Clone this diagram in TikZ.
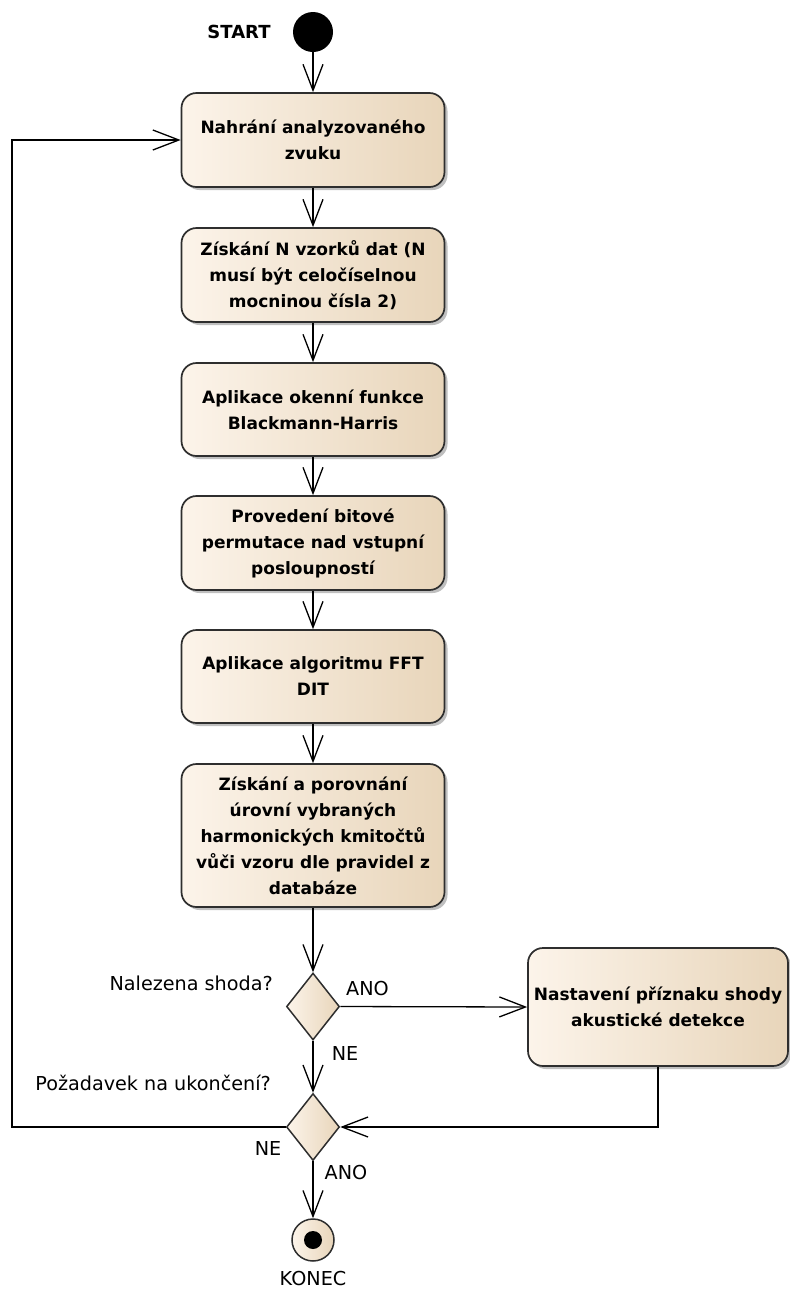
\documentclass[tikz,border=0pt]{standalone}
\usepackage{fontspec}
\setmainfont{DejaVu Sans}
\usetikzlibrary{shapes.geometric,arrows.meta,shadows}
\definecolor{fillL}{HTML}{FCF4EA}
\definecolor{fillR}{HTML}{E8D5BA}
\definecolor{edge}{HTML}{2E2E2E}
\tikzset{
  actbox/.style={draw=edge, line width=1.7pt, rounded corners=15pt, left color=fillL, right color=fillR,
    minimum width=263pt, minimum height=94pt, align=center, inner sep=2pt,
    font=\fontsize{17}{26}\selectfont\bfseries,
    drop shadow={shadow xshift=3pt, shadow yshift=-3pt, fill=black, opacity=0.25}},
  decis/.style={diamond, draw=edge, line width=1.5pt, left color=fillL, right color=fillR,
    minimum width=53pt, minimum height=67pt, inner sep=0pt},
  arr/.style={line width=1.3pt, -{Straight Barb[length=26pt,width=20pt]}},
  lbl/.style={font=\fontsize{19.2}{23}\selectfont, inner sep=0pt},
}
\begin{document}
\begin{tikzpicture}[x=1pt,y=-1pt]
\useasboundingbox (0,0) rectangle (790,1291);
\node[circle, fill=black, minimum size=40pt, inner sep=0pt] (start) at (313,32) {};
\node[lbl, font=\fontsize{18}{22}\selectfont\bfseries] (startl) at (239,32) {START};

\node[actbox] (b1) at (313,140) {Nahrání analyzovaného\\zvuku};
\node[actbox] (b2) at (313,275) {Získání N vzorků dat (N\\musí být celočíselnou\\mocninou čísla 2)};
\node[actbox, minimum height=93pt] (b3) at (313,409.5) {Aplikace okenní funkce\\Blackmann-Harris};
\node[actbox] (b4) at (313,543) {Provedení bitové\\permutace nad vstupní\\posloupností};
\node[actbox, minimum height=93pt] (b5) at (313,676.5) {Aplikace algoritmu FFT\\DIT};
\node[actbox, minimum height=143pt] (b6) at (313,835.5) {Získání a porovnání\\úrovní vybraných\\harmonických kmitočtů\\vůči vzoru dle pravidel z\\databáze};

\node[decis] (d1) at (313,1006.5) {};
\node[decis] (d2) at (313,1127) {};
\node[actbox, minimum width=260pt, minimum height=118pt] (rb) at (658,1007) {Nastavení příznaku shody\\akustické detekce};

\node[circle, draw=edge, line width=1.5pt, left color=fillL, right color=fillR, minimum size=42pt, inner sep=0pt] (end) at (313,1240) {};
\node[circle, fill=black, minimum size=18pt, inner sep=0pt] (endin) at (end.center) {};
\node[lbl] (endl) at (313,1278) {KONEC};

\node[lbl, anchor=east] (q1) at (273,983) {Nalezena shoda?};
\node[lbl, anchor=east] (q2) at (271,1083) {Požadavek na ukončení?};
\node[lbl, anchor=west] (ano1) at (346,988) {ANO};
\node[lbl] (ne1) at (345,1053) {NE};
\node[lbl] (ne2) at (268,1148) {NE};
\node[lbl] (ano2) at (346,1172) {ANO};

\coordinate (loopx) at (12,0);

\draw[arr] (start) -- (b1);
\draw[arr] (b1) -- (b2);
\draw[arr] (b2) -- (b3);
\draw[arr] (b3) -- (b4);
\draw[arr] (b4) -- (b5);
\draw[arr] (b5) -- (b6);
\draw[arr] (b6) -- (d1);
\draw[arr] (d1.south) -- (d2.north);
\draw[arr] (d1.east) -- (rb.west);
\draw[arr] (rb.south) |- (d2.east);
\draw[arr] (d2.west) -- (d2.west -| loopx) |- (b1.west);
\draw[arr] (d2.south) -- (end.north);
\end{tikzpicture}
\end{document}
